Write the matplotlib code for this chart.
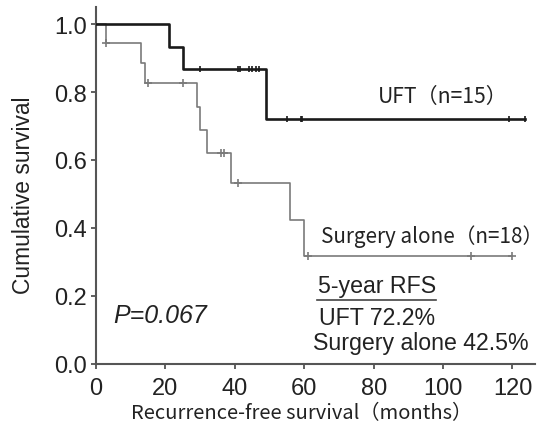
import numpy as np
import matplotlib
matplotlib.use("Agg")
import matplotlib.pyplot as plt

# ---- data ----
uft_times = [0, 21, 25, 49]
uft_surv = [1.0, 0.933, 0.867, 0.722]
uft_end = 123.5
uft_censor = [30, 41, 41.5, 44, 45, 46, 47, 55, 59, 59.5, 119, 123.5]

surg_times = [0, 3, 13, 14, 29, 30, 32, 39, 56, 60]
surg_surv = [1.0, 0.944, 0.885, 0.826, 0.757, 0.688, 0.620, 0.531, 0.425, 0.319]
surg_end = 120
surg_censor = [3, 15, 25, 36, 37, 41, 61, 108, 120]

xticks = [0, 20, 40, 60, 80, 100, 120]
yticks = [0.0, 0.2, 0.4, 0.6, 0.8, 1.0]

SANS = ['Liberation Sans', 'DejaVu Sans']
CJK = ['Noto Sans CJK JP', 'DejaVu Sans']
plt.rcParams['font.family'] = SANS

fig = plt.figure(figsize=(5.44, 4.31), dpi=100)
ax = fig.add_axes([96/544, 1-365/431, (535-96)/544, (365-8)/431])


def level(times, surv, t):
    i = np.searchsorted(times, t, side='right') - 1
    return surv[i]


def draw(times, surv, end, censor, color, lw, marker, ms):
    xs = list(times) + [end]
    ys = list(surv) + [surv[-1]]
    ax.step(xs, ys, where='post', color=color, lw=lw, zorder=3)
    cy = [level(times, surv, c) for c in censor]
    ax.plot(censor, cy, linestyle='none', marker=marker, color=color,
            ms=ms, mew=1.2, zorder=4)


draw(surg_times, surg_surv, surg_end, surg_censor, '#7a7a7a', 1.2, '+', 6)
draw(uft_times, uft_surv, uft_end, uft_censor, '#1a1a1a', 1.9, '|', 5)

ax.set_xlim(0, 126.5)
ax.set_ylim(0, 1.05)
ax.set_xticks(xticks)
ax.set_yticks(yticks)
ax.set_xticklabels([str(v) for v in xticks])
ax.set_yticklabels([f"{v:.1f}" for v in yticks])
ax.tick_params(axis='both', labelsize=17, length=3.5, width=1.2, color='#444444',
               labelcolor='#222222', direction='out', pad=3)
ax.tick_params(axis='x', pad=6)
for s in ['top', 'right']:
    ax.spines[s].set_visible(False)
for s in ['left', 'bottom']:
    ax.spines[s].set_color('#555555')
    ax.spines[s].set_linewidth(1.5)

ax.set_ylabel('Cumulative survival', fontsize=16.4, color='#222222')
ax.yaxis.set_label_coords(-0.14, 0.5 / 1.05)
ax.set_xlabel('Recurrence-free survival（months）', fontsize=14.5, color='#222222',
              family=CJK)
ax.xaxis.label.set_verticalalignment('center')
ax.xaxis.set_label_coords(0.468, -0.136)

ax.text(81.3, 0.788, 'UFT（n=15）', fontsize=15.2, family=CJK, va='center',
        ha='left', color='#222222')
ax.text(64.8, 0.377, 'Surgery alone（n=18）', fontsize=14.9, family=CJK,
        va='center', ha='left', color='#222222')
ax.text(4.9, 0.144, 'P=0.067', fontsize=18, style='italic', va='center',
        ha='left', color='#222222')
ax.text(64.0, 0.232, '5-year RFS', fontsize=16.7, va='center', ha='left',
        color='#222222')
ax.plot([63.6, 98], [0.189, 0.189], color='#444444', lw=1.2)
ax.text(64.3, 0.138, 'UFT 72.2%', fontsize=16.7, va='center', ha='left',
        color='#222222')
ax.text(62.4, 0.062, 'Surgery alone 42.5%', fontsize=16.7, va='center',
        ha='left', color='#222222')

fig.savefig('out.png', dpi=100)
